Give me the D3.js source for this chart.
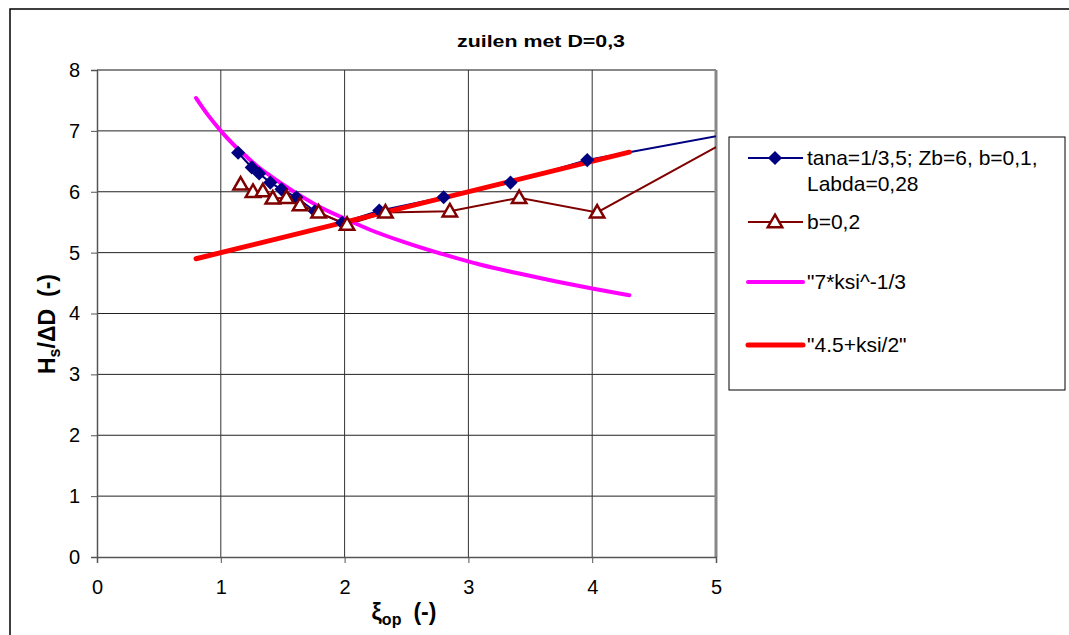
<!DOCTYPE html>
<html>
<head>
<meta charset="utf-8">
<script src="https://cdn.jsdelivr.net/npm/d3@7"></script>
<style>
  body { margin: 0; background: #fff; }
  svg { display: block; font-family: "Liberation Sans", Arial, sans-serif; }
</style>
</head>
<body>
<div id="chart"></div>
<script>
// tana=1/3,5; Zb=6, b=0,1, Labda=0,28
const ksiB1 = [1.14, 1.25, 1.31, 1.40, 1.49, 1.61, 1.76, 1.98, 2.28, 2.80, 3.34, 3.96, 5.6]
const hsB1  = [6.64, 6.40, 6.30, 6.15, 6.04, 5.91, 5.68, 5.49, 5.69, 5.91, 6.15, 6.52, 7.14]

// b=0,2
const ksiB2 = [1.16, 1.26, 1.34, 1.42, 1.53, 1.64, 1.79, 2.02, 2.33, 2.85, 3.41, 4.04, 5.3]
const hsB2  = [6.12, 6.00, 6.01, 5.89, 5.90, 5.78, 5.66, 5.46, 5.66, 5.68, 5.90, 5.66, 7.07]

// "7*ksi^-1/3
const ksiPow = [0.8, 0.9, 1.0, 1.1, 1.2, 1.3, 1.4, 1.5, 1.6, 1.8, 2.0, 2.2, 2.5, 2.8, 3.1, 3.4, 3.7, 4.0, 4.3]
const hsPow  = [7.54, 7.25, 7.00, 6.78, 6.59, 6.41, 6.26, 6.12, 5.99, 5.75, 5.56, 5.38, 5.16, 4.97, 4.80, 4.66, 4.53, 4.41, 4.30]

// "4.5+ksi/2
const ksiLin = [0.8, 4.3]
const hsLin  = [4.9, 6.65]

const xTicks = [0, 1, 2, 3, 4, 5]
const yTicks = [0, 1, 2, 3, 4, 5, 6, 7, 8]

const W = 1069, H = 635
const plot = { left: 97, right: 716, top: 70, bottom: 557 }

const svg = d3.select("#chart").append("svg")
    .attr("width", W).attr("height", H)

// outer chart border (runs off the page on right/bottom)
svg.append("rect")
    .attr("x", 10).attr("y", 9)
    .attr("width", W + 20).attr("height", H + 20)
    .attr("fill", "none").attr("stroke", "#000").attr("stroke-width", 1.5)

const x = d3.scaleLinear().domain([0, 5]).range([plot.left, plot.right])
const y = d3.scaleLinear().domain([0, 8]).range([plot.bottom, plot.top])

svg.append("text")
    .attr("x", 541).attr("y", 47)
    .attr("text-anchor", "middle")
    .attr("font-size", 17).attr("font-weight", "bold")
    .attr("textLength", 168).attr("lengthAdjust", "spacingAndGlyphs")
    .text("zuilen met D=0,3")

/* grid */
svg.append("g").selectAll("line")
    .data(yTicks.slice(1))
    .enter().append("line")
    .attr("x1", plot.left).attr("x2", plot.right)
    .attr("y1", d => y(d)).attr("y2", d => y(d))
    .attr("stroke", d => d === 8 ? "#888" : "#222")
    .attr("stroke-width", d => d === 8 ? 2 : 1)

svg.append("g").selectAll("line")
    .data(xTicks.slice(1))
    .enter().append("line")
    .attr("x1", d => x(d)).attr("x2", d => x(d))
    .attr("y1", plot.top).attr("y2", plot.bottom)
    .attr("stroke", d => d === 5 ? "#888" : "#333")
    .attr("stroke-width", d => d === 5 ? 3 : 1)

/* axes */
const xAxis = svg.append("g")
    .attr("transform", `translate(0, ${plot.bottom})`)
    .call(d3.axisBottom(x).tickValues(xTicks).tickFormat(d3.format("d")).tickSize(6).tickPadding(17))
const yAxis = svg.append("g")
    .attr("transform", `translate(${plot.left}, 0)`)
    .call(d3.axisLeft(y).tickValues(yTicks).tickFormat(d3.format("d")).tickSize(6).tickPadding(11))

;[xAxis, yAxis].forEach(a => {
    a.select(".domain").attr("stroke", "#555").attr("stroke-width", 1.5)
    a.selectAll(".tick line").attr("stroke", "#555")
    a.selectAll("text").attr("font-size", 20).attr("fill", "#000")
        .attr("font-family", "'Liberation Sans', Arial, sans-serif")
})

/* axis titles */
const xt = svg.append("text")
    .attr("x", 404).attr("y", 620)
    .attr("text-anchor", "middle")
    .attr("font-size", 23).attr("font-weight", "bold")
xt.append("tspan").text("ξ")
xt.append("tspan").attr("font-size", 16).attr("dy", 5).text("op")
xt.append("tspan").attr("dy", -5).attr("dx", 12).text("(-)")

const yt = svg.append("text")
    .attr("transform", `translate(55, 324) rotate(-90)`)
    .attr("text-anchor", "middle")
    .attr("font-size", 23).attr("font-weight", "bold")
yt.append("tspan").text("H")
yt.append("tspan").attr("font-size", 16).attr("dy", 5).text("s")
yt.append("tspan").attr("dy", -5).text("/ΔD")
yt.append("tspan").attr("dx", 12).text("(-)")

/* series */
svg.append("clipPath").attr("id", "clip")
    .append("rect")
    .attr("x", plot.left).attr("y", plot.top)
    .attr("width", plot.right - plot.left).attr("height", plot.bottom - plot.top)

const zip = (xs, ys) => xs.map((v, i) => [v, ys[i]])
const line = d3.line().x(d => x(d[0])).y(d => y(d[1]))
const smooth = d3.line().x(d => x(d[0])).y(d => y(d[1])).curve(d3.curveMonotoneX)

const series = [
    { name: "tana=1/3,5; Zb=6, b=0,1,", name2: "Labda=0,28", pts: zip(ksiB1, hsB1), color: "#000080", width: 2, marker: "diamond", gen: line },
    { name: "b=0,2", pts: zip(ksiB2, hsB2), color: "#800000", width: 2, marker: "triangle", gen: line },
    { name: "\"7*ksi^-1/3", pts: zip(ksiPow, hsPow), color: "#FF00FF", width: 4, gen: smooth },
    { name: "\"4.5+ksi/2\"", pts: zip(ksiLin, hsLin), color: "#FF0000", width: 5, gen: line }
]

const g = svg.append("g").attr("clip-path", "url(#clip)")
series.forEach(s => {
    g.append("path")
        .attr("d", s.gen(s.pts))
        .attr("fill", "none")
        .attr("stroke", s.color)
        .attr("stroke-width", s.width)
        .attr("stroke-linecap", "round")
})

const diamond = d3.symbol().type(d3.symbolSquare).size(100)
const triangle = d3.symbol().type(d3.symbolTriangle).size(90)

function drawMarker(sel, s, px, py) {
    if (s.marker === "diamond") {
        sel.append("path").attr("d", diamond())
            .attr("transform", `translate(${px},${py}) rotate(45)`)
            .attr("fill", s.color)
    } else if (s.marker === "triangle") {
        sel.append("path").attr("d", triangle())
            .attr("transform", `translate(${px},${py + 1})`)
            .attr("fill", "#fff").attr("stroke", s.color).attr("stroke-width", 2.5)
    }
}

series.forEach(s => {
    if (!s.marker) return
    s.pts.filter(p => p[0] <= 5).forEach(p => drawMarker(g, s, x(p[0]), y(p[1])))
})

/* legend */
const lg = svg.append("g")
lg.append("rect")
    .attr("x", 729).attr("y", 137).attr("width", 336).attr("height", 253)
    .attr("fill", "#fff").attr("stroke", "#000").attr("stroke-width", 1)

const legendY = [158, 222, 282, 345]
series.forEach((s, i) => {
    const ly = legendY[i]
    lg.append("line")
        .attr("x1", 748).attr("x2", 803)
        .attr("y1", ly).attr("y2", ly)
        .attr("stroke", s.color).attr("stroke-width", s.width)
        .attr("stroke-linecap", s.marker ? "butt" : "round")
    drawMarker(lg, s, 775, ly)
    lg.append("text")
        .attr("x", 807).attr("y", ly + 7)
        .attr("font-size", 21)
        .text(s.name)
    if (s.name2) {
        lg.append("text")
            .attr("x", 807).attr("y", ly + 33)
            .attr("font-size", 21)
            .text(s.name2)
    }
})
</script>
</body>
</html>
